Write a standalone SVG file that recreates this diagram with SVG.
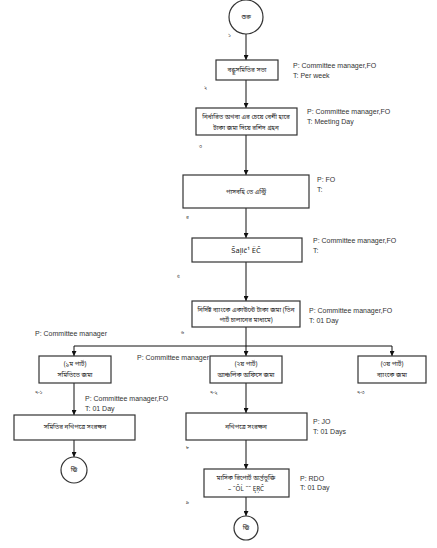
<svg xmlns="http://www.w3.org/2000/svg" width="437" height="548" viewBox="0 0 437 548">
<defs>
<style>
.box{fill:#fff;stroke:#333;stroke-width:1.2}
.ln{fill:none;stroke:#111;stroke-width:1}
.bn{font-family:"Noto Sans","Noto Sans Bengali",sans-serif;font-size:6.3px;fill:#222;text-anchor:middle}
.lab{font-family:"Noto Sans","Noto Sans Bengali",sans-serif;font-size:5px;fill:#222}
.pt{font-family:"Liberation Sans",Arial,sans-serif;font-size:7px;fill:#333}
</style>
<marker id="ah" viewBox="0 0 10 10" refX="10" refY="5" markerWidth="5" markerHeight="5" orient="auto">
<path d="M0,0L10,5L0,10z" fill="#111"/>
</marker>
</defs>
<rect width="437" height="548" fill="#fff"/>
<g id="connectors">
<line class="ln" x1="246" y1="34" x2="246" y2="60" marker-end="url(#ah)"/>
<line class="ln" x1="246" y1="80" x2="246" y2="108" marker-end="url(#ah)"/>
<line class="ln" x1="246" y1="135" x2="246" y2="175" marker-end="url(#ah)"/>
<line class="ln" x1="246" y1="208" x2="246" y2="238" marker-end="url(#ah)"/>
<line class="ln" x1="246" y1="262" x2="246" y2="301" marker-end="url(#ah)"/>
<line class="ln" x1="246" y1="327" x2="246" y2="356" marker-end="url(#ah)"/>
<path class="ln" d="M246,346H74V356" marker-end="url(#ah)"/>
<path class="ln" d="M246,346H392V356" marker-end="url(#ah)"/>
<line class="ln" x1="74" y1="383" x2="74" y2="415" marker-end="url(#ah)"/>
<line class="ln" x1="74" y1="440" x2="74" y2="457" marker-end="url(#ah)"/>
<line class="ln" x1="246" y1="383" x2="246" y2="413" marker-end="url(#ah)"/>
<line class="ln" x1="246" y1="440" x2="246" y2="469" marker-end="url(#ah)"/>
<line class="ln" x1="246" y1="497" x2="246" y2="516" marker-end="url(#ah)"/>
</g>
<g id="start">
<circle class="box" cx="246" cy="17" r="17"/>
<text class="bn" x="246" y="19">শুরু</text>
<text class="lab" x="228" y="37">১</text>
</g>
<g id="n1">
<rect class="box" x="216" y="60" width="62" height="20"/>
<text class="bn" x="247" y="72">বন্ধুসমিতির সভা</text>
<text class="lab" x="204" y="89">২</text>
<text class="pt" x="293" y="68">P:  Committee manager,FO</text>
<text class="pt" x="293" y="78">T:  Per week</text>
</g>
<g id="n2">
<rect class="box" x="196" y="108" width="101" height="27"/>
<text class="bn" x="246" y="119">নির্ধারিত অথবা এর চেয়ে বেশী হারে</text>
<text class="bn" x="246" y="130">টাকা জমা দিয়ে রশিদ গ্রহন</text>
<text class="lab" x="199" y="148">৩</text>
<text class="pt" x="307" y="114">P:  Committee manager,FO</text>
<text class="pt" x="307" y="124">T:  Meeting Day</text>
</g>
<g id="n3">
<rect class="box" x="183" y="175" width="126" height="33"/>
<text class="bn" x="246" y="194">পাসবহি তে এন্ট্রি</text>
<text class="lab" x="186" y="219">৪</text>
<text class="pt" x="317" y="182">P:  FO</text>
<text class="pt" x="317" y="192">T:</text>
</g>
<g id="n4">
<rect class="box" x="192" y="238" width="110" height="24"/>
<text class="bn" x="246" y="253" style="font-size:7.5px">Šaļlč¹ ËĈ</text>
<text class="lab" x="177" y="278">৫</text>
<text class="pt" x="313" y="243">P:  Committee manager,FO</text>
<text class="pt" x="313" y="253">T:</text>
</g>
<g id="n5">
<rect class="box" x="192" y="301" width="108" height="26"/>
<text class="bn" x="246" y="312">নির্দিষ্ট ব্যাংকে একাউন্টে টাকা জমা   (তিন</text>
<text class="bn" x="246" y="322">পার্ট চালানের মাধ্যমে)</text>
<text class="lab" x="181" y="334">৬</text>
<text class="pt" x="309" y="313">P:  Committee manager,FO</text>
<text class="pt" x="309" y="323">T:  01 Day</text>
</g>
<g id="n71">
<text class="pt" x="35" y="336">P:  Committee manager</text>
<rect class="box" x="39" y="356" width="72" height="27"/>
<text class="bn" x="75" y="366">(১ম পার্ট)</text>
<text class="bn" x="75" y="377">সমিতিতে জমা</text>
<text class="lab" x="35" y="394">৭-১</text>
</g>
<g id="n72">
<text class="pt" x="137" y="360">P:  Committee manager</text>
<rect class="box" x="210" y="356" width="72" height="27"/>
<text class="bn" x="246" y="366">(২য় পার্ট)</text>
<text class="bn" x="246" y="377">আঞ্চলিক অফিসে জমা</text>
<text class="lab" x="210" y="394">৭-২</text>
</g>
<g id="n73">
<rect class="box" x="358" y="356" width="68" height="27"/>
<text class="bn" x="392" y="366">(৩য় পার্ট)</text>
<text class="bn" x="392" y="377">ব্যাংকে জমা</text>
<text class="lab" x="357" y="394">৭-৩</text>
</g>
<g id="n81">
<text class="pt" x="85" y="401">P:  Committee manager,FO</text>
<text class="pt" x="85" y="411">T:  01 Day</text>
<rect class="box" x="14" y="415" width="121" height="25"/>
<text class="bn" x="75" y="429">সমিতির নথিপত্রে সংরক্ষন</text>
</g>
<g id="end1">
<circle class="box" cx="74" cy="470" r="13"/>
<text class="bn" x="74" y="472">ঊি</text>
</g>
<g id="n8">
<rect class="box" x="186" y="413" width="121" height="27"/>
<text class="bn" x="246" y="429">নথিপত্রে সংরক্ষন</text>
<text class="lab" x="186" y="449">৮</text>
<text class="pt" x="313" y="424">P: JO</text>
<text class="pt" x="313" y="434">T: 01 Days</text>
</g>
<g id="n9">
<rect class="box" x="204" y="469" width="85" height="28"/>
<text class="bn" x="246" y="480">মাসিক রিপোর্ট অর্ন্তভুক্তি</text>
<text class="bn" x="246" y="491">– ˜ÔĹ ˜˜ ĘŖĈ</text>
<text class="lab" x="186" y="504">৯</text>
<text class="pt" x="300" y="481">P: RDO</text>
<text class="pt" x="300" y="490">T:  01 Day</text>
</g>
<g id="end2">
<circle class="box" cx="246" cy="528" r="12"/>
<text class="bn" x="246" y="530">ঊি</text>
</g>
</svg>
